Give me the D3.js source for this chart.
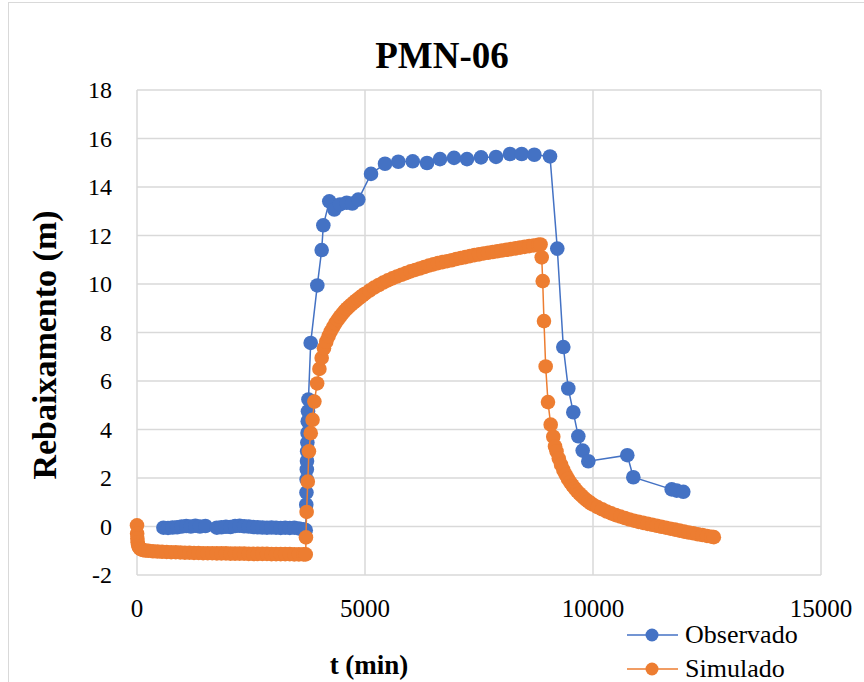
<!DOCTYPE html>
<html>
<head>
<meta charset="utf-8">
<script src="https://cdn.jsdelivr.net/npm/d3@7"></script>
<style>
  body { margin: 0; background: white; }
  text { font-family: "Liberation Serif", "Times New Roman", serif; fill: #000; }
</style>
</head>
<body>
<div id="wrapper"></div>
<script>
// observed drawdown (min, m)
var obsT = [580, 680, 780, 880, 980, 1080, 1180, 1280, 1380, 1500,
    1750, 1850, 1950, 2050, 2150, 2250, 2350, 2450, 2550, 2650, 2750, 2850, 2950,
    3050, 3150, 3250, 3350, 3450, 3550, 3650, 3700,
    3712, 3716, 3720, 3724, 3728, 3732, 3736, 3740, 3744, 3750, 3760,
    3809, 3954, 4050, 4086, 4217, 4327, 4452, 4599, 4721, 4853, 5132, 5439, 5730, 6046,
    6360, 6645, 6952, 7237, 7544, 7873, 8180, 8436, 8713, 9057,
    9217, 9349, 9458, 9568, 9678, 9774, 9897, 10752, 10884, 11726, 11836, 11980];
var obsV = [-0.05, -0.06, -0.04, -0.03, 0.0, 0.02, 0.0, 0.03, 0.0, 0.02,
    -0.05, -0.03, -0.01, -0.02, 0.02, 0.03, 0.01, 0.0, -0.02, -0.03, -0.04, -0.05, -0.04,
    -0.05, -0.06, -0.05, -0.06, -0.05, -0.08, -0.12, -0.15,
    0.9, 1.4, 1.94, 2.35, 2.7, 3.1, 3.46, 3.86, 4.34, 4.75, 5.24,
    7.57, 9.94, 11.4, 12.42, 13.41, 13.07, 13.28, 13.35, 13.32, 13.48, 14.54, 14.96, 15.04, 15.06,
    14.99, 15.15, 15.2, 15.15, 15.22, 15.24, 15.36, 15.36, 15.33, 15.26,
    11.46, 7.4, 5.69, 4.71, 3.72, 3.13, 2.69, 2.94, 2.03, 1.53, 1.48, 1.43];

// simulated drawdown (min, m)
var simT = [0, 3, 8, 15, 25, 40, 60, 90, 130, 180,
    250, 350, 450, 550, 650, 750, 850, 950, 1050, 1150, 1250, 1350, 1450, 1550, 1650,
    1750, 1850, 1950, 2050, 2150, 2250, 2350, 2450, 2550, 2650, 2750, 2850, 2950,
    3050, 3150, 3250, 3350, 3450, 3550, 3650, 3700,
    3705, 3720, 3745, 3770, 3810, 3850, 3890, 3950, 4000, 4050,
    4100, 4150, 4200, 4250, 4300, 4350, 4400, 4450, 4500, 4550, 4600, 4650, 4700, 4750,
    4800, 4850, 4900, 4950, 5000, 5100, 5200, 5300, 5400, 5500, 5600, 5700, 5800, 5900,
    6000, 6100, 6200, 6300, 6400, 6500, 6600, 6700, 6800, 6900, 7000, 7100, 7200, 7300,
    7400, 7500, 7600, 7700, 7800, 7900, 8000, 8100, 8200, 8300, 8400, 8500, 8600, 8700,
    8800, 8850,
    8875, 8897, 8925, 8962, 9013, 9072, 9129, 9167,
    9200, 9250, 9300, 9350, 9400, 9450, 9500, 9550, 9600, 9650, 9700, 9750, 9800, 9850,
    9900, 9950, 10000, 10100, 10200, 10300, 10400, 10500, 10600, 10700, 10800, 10900,
    11000, 11100, 11200, 11300, 11400, 11500, 11600, 11700, 11800, 11900, 12000, 12100,
    12200, 12300, 12400, 12500, 12600, 12650];
var simV = [0.05, -0.3, -0.5, -0.65, -0.76, -0.84, -0.9, -0.94, -0.97, -0.99,
    -1.0, -1.02, -1.03, -1.04, -1.05, -1.06, -1.06, -1.07, -1.08, -1.08, -1.09, -1.09, -1.1, -1.1, -1.1,
    -1.11, -1.11, -1.11, -1.12, -1.12, -1.12, -1.12, -1.13, -1.13, -1.13, -1.13, -1.13, -1.14,
    -1.14, -1.14, -1.14, -1.14, -1.15, -1.15, -1.15, -1.15,
    -0.45, 0.6, 1.85, 3.1, 3.85, 4.4, 5.15, 5.9, 6.5, 6.95,
    7.35, 7.62, 7.85, 8.05, 8.22, 8.38, 8.52, 8.65, 8.77, 8.88, 8.98, 9.07, 9.15, 9.23,
    9.31, 9.39, 9.46, 9.53, 9.6, 9.73, 9.85, 9.96, 10.06, 10.15, 10.23, 10.31, 10.38, 10.45,
    10.52, 10.58, 10.64, 10.7, 10.76, 10.81, 10.86, 10.9, 10.94, 10.98, 11.03, 11.07, 11.11, 11.15,
    11.19, 11.22, 11.26, 11.29, 11.32, 11.35, 11.38, 11.41, 11.44, 11.47, 11.5, 11.53, 11.56, 11.59,
    11.62, 11.63,
    11.1, 10.12, 8.47, 6.6, 5.13, 4.2, 3.7, 3.3,
    3.1, 2.8, 2.55, 2.33, 2.14, 1.97, 1.82, 1.69, 1.57, 1.46, 1.36, 1.27, 1.18, 1.1,
    1.03, 0.96, 0.9, 0.8, 0.71, 0.62, 0.54, 0.47, 0.41, 0.35, 0.29, 0.24,
    0.19, 0.15, 0.11, 0.07, 0.03, -0.01, -0.05, -0.09, -0.13, -0.17, -0.21, -0.25,
    -0.28, -0.32, -0.35, -0.39, -0.42, -0.44];

var xTicks = [0, 5000, 10000, 15000];
var yTicks = [-2, 0, 2, 4, 6, 8, 10, 12, 14, 16, 18];
var seriesNames = ["Observado", "Simulado"];
var seriesColors = ["#4472C4", "#ED7D31"];

var serif = "'Liberation Serif', 'Times New Roman', serif";
var width = 864, height = 682;
var plot = {left: 137, right: 821, top: 90, bottom: 575};

var svg = d3.select("#wrapper").append("svg")
    .attr("width", width)
    .attr("height", height);

// chart area border
svg.append("rect")
    .attr("x", 8.5).attr("y", 2.5)
    .attr("width", 900).attr("height", 700)
    .attr("fill", "white")
    .attr("stroke", "#d9d9d9")
    .attr("stroke-width", 1);

var x = d3.scaleLinear().domain([0, 15000]).range([plot.left, plot.right]);
var y = d3.scaleLinear().domain([-2, 18]).range([plot.bottom, plot.top]);

// gridlines
svg.append("g")
    .selectAll("line")
    .data(yTicks)
    .enter()
    .append("line")
    .attr("x1", plot.left).attr("x2", plot.right)
    .attr("y1", d => y(d)).attr("y2", d => y(d))
    .attr("stroke", "#d9d9d9").attr("stroke-width", 1.5);

svg.append("g")
    .selectAll("line")
    .data(xTicks)
    .enter()
    .append("line")
    .attr("x1", d => x(d)).attr("x2", d => x(d))
    .attr("y1", plot.top).attr("y2", plot.bottom)
    .attr("stroke", "#d9d9d9").attr("stroke-width", 1.5);

// tick labels
svg.append("g")
    .selectAll("text")
    .data(yTicks)
    .enter()
    .append("text")
    .attr("x", plot.left - 25)
    .attr("y", d => y(d) + 8)
    .attr("text-anchor", "end")
    .attr("font-family", serif)
    .style("font-size", "24px")
    .text(d => String(d));

svg.append("g")
    .selectAll("text")
    .data(xTicks)
    .enter()
    .append("text")
    .attr("x", d => x(d))
    .attr("y", 617)
    .attr("text-anchor", "middle")
    .attr("font-family", serif)
    .style("font-size", "25px")
    .text(d => String(d));

// title and axis titles
svg.append("text")
    .attr("x", 442).attr("y", 68)
    .attr("text-anchor", "middle")
    .style("font-size", "37px").style("font-weight", "bold")
    .text("PMN-06");

svg.append("text")
    .attr("transform", "translate(56,345) rotate(-90)")
    .attr("text-anchor", "middle")
    .style("font-size", "34px").style("font-weight", "bold")
    .text("Rebaixamento (m)");

svg.append("text")
    .attr("x", 369).attr("y", 674)
    .attr("text-anchor", "middle")
    .style("font-size", "27px").style("font-weight", "bold")
    .text("t (min)");

// series
var obs = obsT.map((t, i) => ({t: t, v: obsV[i]}));
var sim = simT.map((t, i) => ({t: t, v: simV[i]}));

var line = d3.line().x(d => x(d.t)).y(d => y(d.v));

[obs, sim].forEach(function(data, k){
    svg.append("path")
        .datum(data)
        .attr("d", line)
        .attr("fill", "none")
        .attr("stroke", seriesColors[k])
        .attr("stroke-width", 1.5);
    svg.append("g")
        .selectAll("circle")
        .data(data)
        .enter()
        .append("circle")
        .attr("cx", d => x(d.t))
        .attr("cy", d => y(d.v))
        .attr("r", 7.3)
        .attr("fill", seriesColors[k]);
});

// legend
var legend = svg.append("g");
seriesNames.forEach(function(name, k){
    var ly = 635 + k * 34;
    legend.append("line")
        .attr("x1", 627).attr("x2", 678)
        .attr("y1", ly).attr("y2", ly)
        .attr("stroke", seriesColors[k]).attr("stroke-width", 1.5);
    legend.append("circle")
        .attr("cx", 652).attr("cy", ly).attr("r", 6.5)
        .attr("fill", seriesColors[k]);
    legend.append("text")
        .attr("x", 685).attr("y", ly + 8)
        .style("font-size", "26px")
        .text(name);
});
</script>
</body>
</html>
